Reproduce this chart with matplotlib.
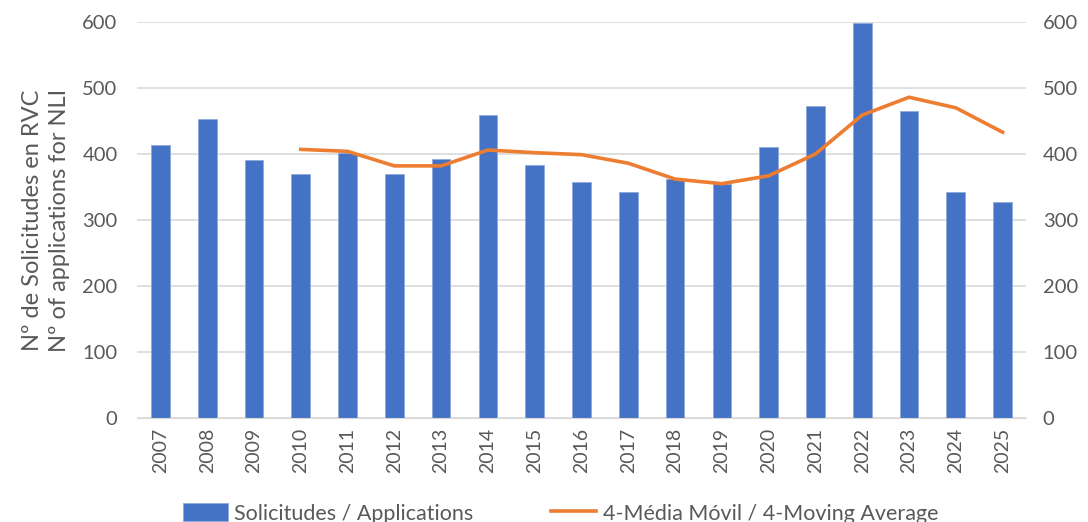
import matplotlib.pyplot as plt
import numpy as np

years = [str(y) for y in range(2007, 2026)]
applications = [413, 453, 391, 370, 401, 370, 393, 459, 384, 358,
                342, 362, 355, 411, 472, 598, 465, 343, 327]
# 4-year moving average (starts in 2010)
ma_years = years[3:]
moving_avg = [407, 404, 382, 382, 406, 402, 399, 386, 362, 355,
              367, 400, 459, 486, 470, 433]

plt.rcParams['font.family'] = ['Lato', 'DejaVu Sans']
grey = '#595959'

fig = plt.figure(figsize=(10.88, 5.22), dpi=100)
ax = fig.add_axes([137/1088, 1 - 418/522, (1026-137)/1088, (418-22)/522])

x = np.arange(len(years))
bars = ax.bar(x, applications, width=0.4, color='#4472C4', edgecolor='#8faadc',
              linewidth=0.6, zorder=2, label='Solicitudes / Applications')
xm = np.arange(3, len(years))
line, = ax.plot(xm, moving_avg, color='#ED7D31', linewidth=2.6, zorder=3,
                label='4-Média Móvil / 4-Moving Average')

ax.set_xlim(-0.5, len(years) - 0.5)
ax.set_ylim(0, 600)
ax.set_yticks(range(0, 601, 100))
ax.yaxis.grid(True, color='#d9d9d9', linewidth=1.2, zorder=0)
ax.set_xticks(x)
ax.set_xticklabels(years, rotation=90, fontsize=14, color=grey)
ax.tick_params(axis='y', labelsize=14.5, labelcolor=grey, length=0, pad=14)
ax.tick_params(axis='x', length=0, pad=7)
for s in ax.spines.values():
    s.set_visible(False)
ax.spines['bottom'].set_visible(True)
ax.spines['bottom'].set_color('#d9d9d9')

ax.set_ylabel('Nº de Solicitudes en RVC\nNº of applications for NLI',
              fontsize=17, color=grey, labelpad=9, linespacing=1.35)

ax2 = ax.twinx()
ax2.set_ylim(0, 600)
ax2.set_yticks(range(0, 601, 100))
ax2.tick_params(axis='y', labelsize=14.5, labelcolor=grey, length=0, pad=12)
for s in ax2.spines.values():
    s.set_visible(False)

fig.legend([bars, line], [bars.get_label(), line.get_label()],
           loc='lower center', bbox_to_anchor=(0.515, -0.04), ncol=2,
           frameon=False, fontsize=15.5, labelcolor=grey, columnspacing=3.6,
           handlelength=2.1, handleheight=0.9, handletextpad=0.3)

fig.savefig('out.png', dpi=100)
